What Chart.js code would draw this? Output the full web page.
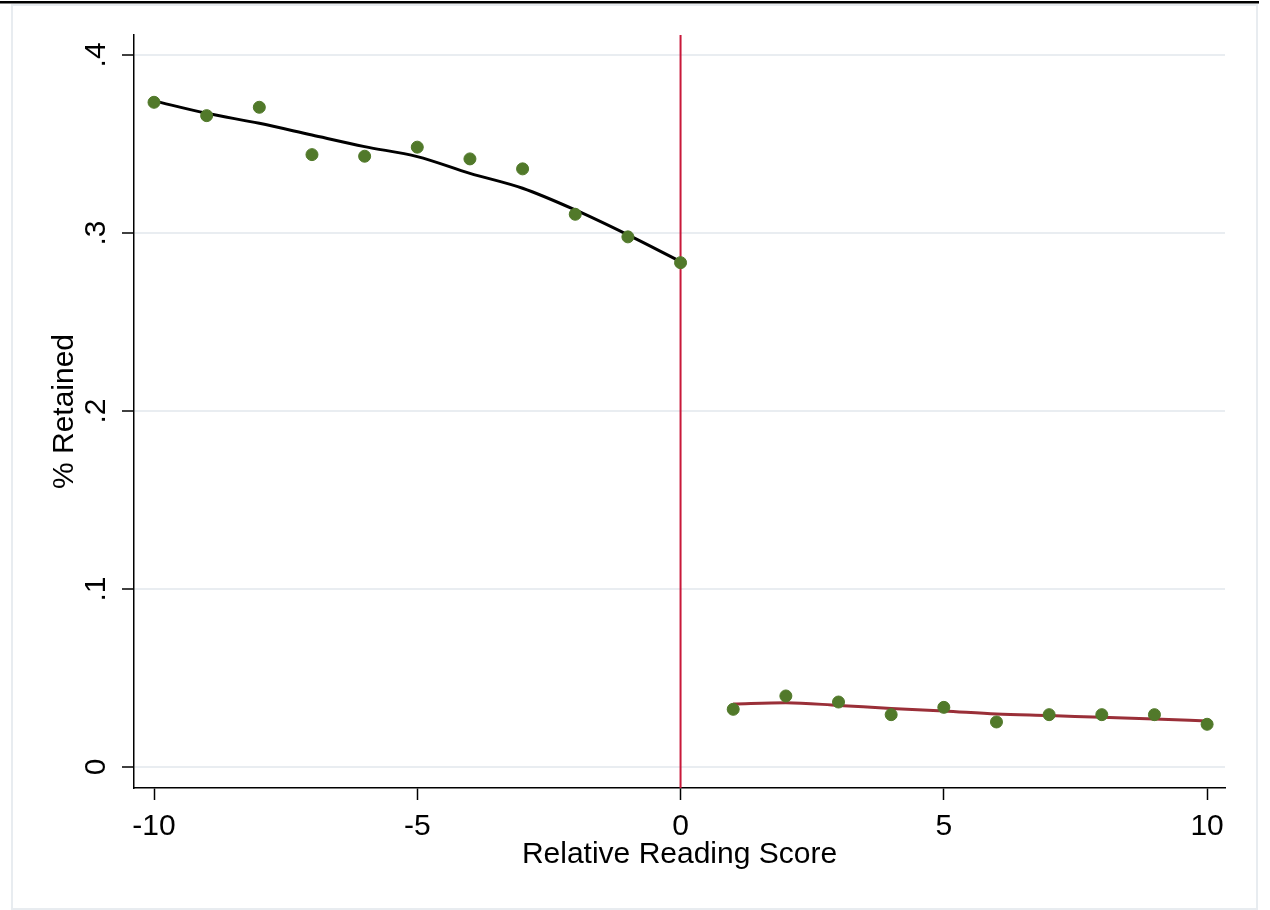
<!DOCTYPE html>
<html>
<head>
<meta charset="utf-8">
<script src="https://cdn.jsdelivr.net/npm/chart.js@4/dist/chart.umd.min.js"></script>
<style>
  html, body { margin: 0; padding: 0; background: #fff; }
  #wrap { width: 1270px; height: 910px; }
</style>
</head>
<body>
<div id="wrap"><canvas id="chart" width="1270" height="910"></canvas></div>
<script>
// Share retained by relative reading score, with a fit on each side of the cutoff.
const scoreX = [-10, -9, -8, -7, -6, -5, -4, -3, -2, -1, 0, 1, 2, 3, 4, 5, 6, 7, 8, 9, 10];
const retained = [0.3734, 0.3659, 0.3706, 0.3440, 0.3431, 0.3482, 0.3416, 0.3360, 0.3105, 0.2978, 0.2833,
                  0.0324, 0.0399, 0.0365, 0.0294, 0.0335, 0.0253, 0.0294, 0.0294, 0.0294, 0.0240];

const leftFitX = [-10, -9, -8, -7, -6, -5, -4, -3, -2, -1, 0];
const leftFitY = [0.3742, 0.3672, 0.3616, 0.3550, 0.3485, 0.3429, 0.3335, 0.3251, 0.3129, 0.2989, 0.2839];

const rightFitX = [1, 2, 3, 4, 5, 6, 7, 8, 9, 10];
const rightFitY = [0.0354, 0.0361, 0.0346, 0.0329, 0.0315, 0.0298, 0.0289, 0.0279, 0.0270, 0.0258];

const cutoff = 0;
const xTicks = [-10, -5, 0, 5, 10];
const yTicks = [0, 0.1, 0.2, 0.3, 0.4];
const yTickLabels = ['0', '.1', '.2', '.3', '.4'];

const FONT = '"Liberation Sans", Arial, sans-serif';
const FONT_SIZE = 30;

const toPoints = (xs, ys) => xs.map((x, i) => ({ x, y: ys[i] }));

// White page, light graph-region frame and the thin black rule at the top.
const framePlugin = {
  id: 'frame',
  beforeDraw(chart) {
    const ctx = chart.ctx;
    ctx.save();
    ctx.fillStyle = '#fff';
    ctx.fillRect(0, 0, chart.width, chart.height);
    ctx.strokeStyle = '#e8ecf0';
    ctx.lineWidth = 2;
    ctx.strokeRect(12, 5, 1245, 904);
    ctx.fillStyle = '#000';
    ctx.fillRect(0, 1, 1259, 2.5);
    ctx.restore();
  }
};

// Stata-style vertical y tick labels (Chart.js won't rotate vertical-axis ticks).
const yLabelPlugin = {
  id: 'yLabels',
  afterDraw(chart) {
    const y = chart.scales.y;
    const ctx = chart.ctx;
    ctx.save();
    ctx.fillStyle = '#000';
    ctx.font = `${FONT_SIZE}px ${FONT}`;
    ctx.textAlign = 'center';
    ctx.textBaseline = 'middle';
    yTicks.forEach((v, i) => {
      ctx.save();
      ctx.translate(97, y.getPixelForValue(v));
      ctx.rotate(-Math.PI / 2);
      ctx.fillText(yTickLabels[i], 0, 0);
      ctx.restore();
    });
    ctx.restore();
  }
};

new Chart(document.getElementById('chart'), {
  type: 'scatter',
  data: {
    datasets: [
      {
        label: 'Retained',
        data: toPoints(scoreX, retained),
        backgroundColor: '#51792a',
        borderColor: '#51792a',
        pointRadius: 6,
        pointHoverRadius: 6,
        showLine: false,
        order: 0
      },
      {
        label: 'Fit below',
        data: toPoints(leftFitX, leftFitY),
        borderColor: '#000',
        borderWidth: 3,
        pointRadius: 0,
        showLine: true,
        cubicInterpolationMode: 'monotone',
        order: 1
      },
      {
        label: 'Fit above',
        data: toPoints(rightFitX, rightFitY),
        borderColor: '#9a2f38',
        borderWidth: 3,
        pointRadius: 0,
        showLine: true,
        cubicInterpolationMode: 'monotone',
        order: 1
      },
      {
        label: 'Cutoff',
        data: [{ x: cutoff, y: -0.0118 }, { x: cutoff, y: 0.4112 }],
        borderColor: '#c8183a',
        borderWidth: 2,
        pointRadius: 0,
        showLine: true,
        order: 2
      }
    ]
  },
  options: {
    responsive: false,
    animation: false,
    layout: { padding: { left: 0, top: 35, right: 45, bottom: 0 } },
    plugins: {
      legend: { display: false },
      tooltip: { enabled: false }
    },
    scales: {
      x: {
        type: 'linear',
        min: -10.38,
        max: 10.34,
        afterBuildTicks: (scale) => { scale.ticks = xTicks.map((value) => ({ value })); },
        afterFit: (scale) => { scale.height = 122; },
        border: { color: '#000', width: 1.5 },
        grid: { drawOnChartArea: false, tickColor: '#000', tickLength: 12, tickWidth: 1.5 },
        ticks: { color: '#000', font: { family: FONT, size: FONT_SIZE }, padding: 9, maxRotation: 0 },
        title: {
          display: true,
          text: 'Relative Reading Score',
          color: '#000',
          font: { family: FONT, size: FONT_SIZE },
          padding: { top: 0, bottom: 37 }
        }
      },
      y: {
        type: 'linear',
        min: -0.0118,
        max: 0.4112,
        afterBuildTicks: (scale) => { scale.ticks = yTicks.map((value) => ({ value })); },
        afterFit: (scale) => { scale.width = 134; },
        border: { color: '#000', width: 1.5 },
        grid: { color: '#e9edf1', lineWidth: 2, tickColor: '#000', tickLength: 12, tickWidth: 1.5 },
        ticks: { display: false },
        title: {
          display: true,
          text: '% Retained',
          color: '#000',
          font: { family: FONT, size: FONT_SIZE },
          padding: { top: 47, bottom: 0 }
        }
      }
    }
  },
  plugins: [framePlugin, yLabelPlugin]
});
</script>
</body>
</html>
